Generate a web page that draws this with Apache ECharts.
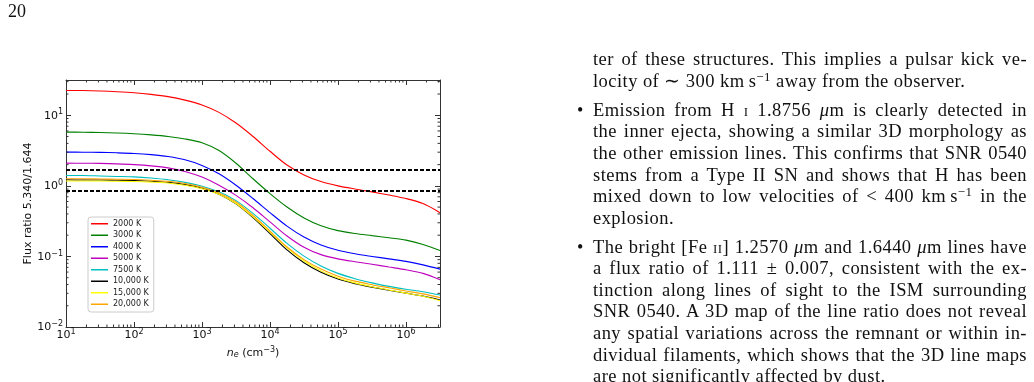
<!DOCTYPE html>
<html><head><meta charset="utf-8">
<script src="https://cdn.jsdelivr.net/npm/echarts@6/dist/echarts.min.js"></script>
<style>
html,body{margin:0;padding:0;background:#fff;width:1034px;height:382px;overflow:hidden;}
#chart{position:absolute;left:0;top:0;width:1034px;height:382px;}
.pg{position:absolute;left:8px;top:1px;font-family:'Liberation Serif',serif;font-size:18px;color:#111;}
.ln{position:absolute;left:593px;width:434px;height:21.5px;line-height:21.5px;font-family:'Liberation Serif',serif;font-size:18.5px;letter-spacing:0.45px;color:#111;text-align:justify;text-align-last:justify;white-space:nowrap;}
.ln.l{text-align:left;text-align-last:left;}
.bu{position:absolute;left:577px;height:21.5px;line-height:21.5px;font-family:'Liberation Serif',serif;font-size:18px;color:#111;}
sup{font-size:0.7em;line-height:0;vertical-align:0.45em;}
.sc{font-variant:small-caps;}
</style></head>
<body>
<div id="chart"></div>
<div class="pg">20</div>
<div class="ln" style="top:49px">ter of these structures. This implies a pulsar kick ve-</div>
<div class="ln l" style="top:71px">locity of ∼ 300 km&#8201;s<sup>−1</sup> away from the observer.</div>
<div class="bu" style="top:100px">•</div>
<div class="ln" style="top:100px">Emission from H <span class="sc">i</span> 1.8756 <i>μ</i>m is clearly detected in</div>
<div class="ln" style="top:121px">the inner ejecta, showing a similar 3D morphology as</div>
<div class="ln" style="top:143px">the other emission lines. This confirms that SNR&nbsp;0540</div>
<div class="ln" style="top:165px">stems from a Type II SN and shows that H has been</div>
<div class="ln" style="top:186px">mixed down to low velocities of &lt; 400 km&#8201;s<sup>−1</sup> in the</div>
<div class="ln l" style="top:208px">explosion.</div>
<div class="bu" style="top:237px">•</div>
<div class="ln" style="top:237px">The bright [Fe <span class="sc">ii</span>] 1.2570 <i>μ</i>m and 1.6440 <i>μ</i>m lines have</div>
<div class="ln" style="top:258px">a flux ratio of 1.111 ± 0.007, consistent with the ex-</div>
<div class="ln" style="top:280px">tinction along lines of sight to the ISM surrounding</div>
<div class="ln" style="top:301px">SNR&nbsp;0540. A 3D map of the line ratio does not reveal</div>
<div class="ln" style="top:323px">any spatial variations across the remnant or within in-</div>
<div class="ln" style="top:345px">dividual filaments, which shows that the 3D line maps</div>
<div class="ln l" style="top:366px">are not significantly affected by dust.</div>
<script>
// electron density n_e (cm^-3)
const density = [10, 17.8, 31.6, 56.2, 100, 178, 316, 562, 1000, 1778, 3162, 5623, 10000, 17783, 31623, 56234, 100000, 177828, 316228, 562341, 1000000, 1778279, 3162278];
// flux ratio 5.340/1.644 per temperature
const ratio2000K  = [22.5, 22.4, 22.1, 21.6, 20.9, 19.8, 18.4, 16.4, 14.0, 11.0, 7.76, 5.01, 3.09, 1.97, 1.43, 1.15, 1.00, 0.902, 0.822, 0.741, 0.661, 0.562, 0.417];
const ratio3000K  = [5.78, 5.75, 5.70, 5.61, 5.47, 5.27, 5.01, 4.62, 4.07, 3.16, 2.09, 1.26, 0.776, 0.501, 0.351, 0.272, 0.232, 0.211, 0.197, 0.184, 0.170, 0.148, 0.121];
const ratio4000K  = [3.01, 3.00, 2.98, 2.94, 2.88, 2.77, 2.60, 2.34, 1.95, 1.48, 1.02, 0.661, 0.417, 0.269, 0.188, 0.145, 0.122, 0.109, 0.100, 0.0923, 0.0851, 0.0759, 0.0661];
const ratio5000K  = [2.10, 2.09, 2.08, 2.05, 2.00, 1.92, 1.80, 1.60, 1.33, 1.02, 0.733, 0.490, 0.309, 0.195, 0.135, 0.106, 0.0923, 0.0841, 0.0776, 0.0708, 0.0646, 0.0575, 0.0468];
const ratio7500K  = [1.40, 1.40, 1.38, 1.36, 1.34, 1.29, 1.22, 1.12, 0.989, 0.822, 0.617, 0.407, 0.251, 0.153, 0.101, 0.0733, 0.0575, 0.0484, 0.0422, 0.0376, 0.0343, 0.0316, 0.0284];
const ratio10000K = [1.22, 1.21, 1.21, 1.20, 1.19, 1.16, 1.12, 1.04, 0.923, 0.759, 0.556, 0.355, 0.211, 0.124, 0.0813, 0.0596, 0.0479, 0.0412, 0.0367, 0.0331, 0.0302, 0.0275, 0.0242];
const ratio15000K = [1.17, 1.17, 1.17, 1.16, 1.15, 1.13, 1.10, 1.02, 0.912, 0.759, 0.562, 0.363, 0.221, 0.132, 0.0861, 0.0624, 0.0495, 0.0422, 0.0372, 0.0335, 0.0302, 0.0272, 0.0236];
const ratio20000K = [1.26, 1.26, 1.25, 1.24, 1.23, 1.20, 1.16, 1.08, 0.955, 0.794, 0.589, 0.380, 0.229, 0.136, 0.0902, 0.0661, 0.0525, 0.0447, 0.0398, 0.0359, 0.0324, 0.0295, 0.0261];
const seriesNames = ['2000 K', '3000 K', '4000 K', '5000 K', '7500 K', '10,000 K', '15,000 K', '20,000 K'];
const dashedLevels = [1.7, 0.86];
const xRange = [10, 3162278];
const yRange = [0.01, 31.62];
const minorMantissas = [2, 3, 4, 5, 6, 7, 8, 9];
const xDecades = [10, 100, 1000, 10000, 100000, 1000000];
const yDecades = [0.01, 0.1, 1, 10];

const ratios = [ratio2000K, ratio3000K, ratio4000K, ratio5000K, ratio7500K, ratio10000K, ratio15000K, ratio20000K];
const colors = ['#ff0000', '#008000', '#0000ff', '#bf00bf', '#00bfbf', '#000000', '#ffff00', '#ffa500'];
const FONT = 'DejaVu Sans';
const AX = '#333';

function minorList(decades, range) {
  const out = [];
  decades.forEach(d => minorMantissas.forEach(m => { const v = m * d; if (v > range[0] && v < range[1]) out.push(v); }));
  return out;
}
const xMinor = minorList(xDecades, xRange);
const yMinor = minorList(yDecades, yRange);

function powLabel(v) {
  const l = Math.log10(v);
  const e = Math.round(l);
  if (Math.abs(l - e) > 0.01) return '';
  return '{b|10}{s|' + (e < 0 ? '\u2212' + (-e) : e) + '}';
}
const labelRich = {
  b: {fontSize: 11, fontFamily: FONT, color: '#111', lineHeight: 12, verticalAlign: 'bottom'},
  s: {fontSize: 8, fontFamily: FONT, color: '#111', lineHeight: 8, padding: [0, 0, 5, 0], verticalAlign: 'bottom'}
};

const chart = echarts.init(document.getElementById('chart'), null, {renderer: 'canvas'});
const baseX = {type: 'log', min: xRange[0], max: xRange[1], splitLine: {show: false},
  axisLine: {show: true, lineStyle: {color: AX, width: 1}},
  axisTick: {show: true, inside: true, length: 5, lineStyle: {color: AX}}};
const baseY = {type: 'log', min: yRange[0], max: yRange[1], splitLine: {show: false},
  axisLine: {show: true, lineStyle: {color: AX, width: 1}},
  axisTick: {show: true, inside: true, length: 5, lineStyle: {color: AX}}};

const lineSeries = seriesNames.map((name, i) => ({
  name: name, type: 'line', xAxisIndex: 0, yAxisIndex: 0,
  data: density.map((d, j) => [d, ratios[i][j]]),
  showSymbol: false, symbol: 'none', smooth: 0.3,
  lineStyle: {color: colors[i], width: 1.1}, itemStyle: {color: colors[i]},
  emphasis: {disabled: true}
}));

const option = {
  animation: false,
  backgroundColor: 'transparent',
  grid: {left: 66, top: 80, width: 374, height: 247, containLabel: false},
  legend: {
    data: seriesNames, orient: 'vertical', left: 88, top: 217,
    padding: [2, 5, 3, 3], itemWidth: 17, itemHeight: 1.5, itemGap: 2, icon: 'rect',
    textStyle: {fontSize: 8, fontFamily: FONT, color: '#222', lineHeight: 9.5},
    backgroundColor: '#fff', borderColor: '#cccccc', borderWidth: 1, borderRadius: 3,
    selectedMode: false
  },
  xAxis: [
    Object.assign({}, baseX, {position: 'bottom',
      axisLabel: {show: true, margin: 2, formatter: powLabel, rich: labelRich, showMaxLabel: false},
      name: '{i|n}{sub|e} (cm{sup|\u22123})', nameLocation: 'middle', nameGap: 18,
      nameTextStyle: {fontFamily: FONT, fontSize: 11, color: '#111',
        rich: {i: {fontFamily: FONT, fontSize: 11, fontStyle: 'italic', color: '#111'},
               sub: {fontFamily: FONT, fontSize: 8, fontStyle: 'italic', color: '#111', padding: [5, 0, 0, 0]},
               sup: {fontFamily: FONT, fontSize: 8, color: '#111', padding: [0, 0, 6, 0]}}}}),
    Object.assign({}, baseX, {position: 'top', axisLabel: {show: false}})
  ],
  yAxis: [
    Object.assign({}, baseY, {position: 'left',
      axisLabel: {show: true, margin: 3, formatter: powLabel, rich: labelRich, showMaxLabel: false},
      name: 'Flux ratio 5.340/1.644', nameLocation: 'middle', nameGap: 30,
      nameTextStyle: {fontFamily: FONT, fontSize: 11, color: '#111'}}),
    Object.assign({}, baseY, {position: 'right', axisLabel: {show: false}})
  ],
  series: lineSeries.concat([
    {
      name: 'levels', type: 'line', xAxisIndex: 0, yAxisIndex: 0, data: [], z: 10,
      markLine: {silent: true, symbol: ['none', 'none'], label: {show: false},
        lineStyle: {color: '#000', width: 2, type: [4, 2]},
        data: dashedLevels.map(v => ({yAxis: v}))}
    },
    {
      name: 'xminor', type: 'custom', xAxisIndex: 0, yAxisIndex: 0, silent: true, z: 11,
      data: xMinor.map(v => [v, 1]),
      renderItem: function (params, api) {
        const cs = params.coordSys;
        const px = api.coord([api.value(0), 1])[0];
        return {type: 'group', children: [
          {type: 'line', shape: {x1: px, y1: cs.y + cs.height, x2: px, y2: cs.y + cs.height - 2.5}, style: {stroke: AX, lineWidth: 1}},
          {type: 'line', shape: {x1: px, y1: cs.y, x2: px, y2: cs.y + 2.5}, style: {stroke: AX, lineWidth: 1}}
        ]};
      }
    },
    {
      name: 'yminor', type: 'custom', xAxisIndex: 0, yAxisIndex: 0, silent: true, z: 11,
      data: yMinor.map(v => [100, v]),
      renderItem: function (params, api) {
        const cs = params.coordSys;
        const py = api.coord([100, api.value(1)])[1];
        return {type: 'group', children: [
          {type: 'line', shape: {x1: cs.x, y1: py, x2: cs.x + 2.5, y2: py}, style: {stroke: AX, lineWidth: 1}},
          {type: 'line', shape: {x1: cs.x + cs.width, y1: py, x2: cs.x + cs.width - 2.5, y2: py}, style: {stroke: AX, lineWidth: 1}}
        ]};
      }
    }
  ])
};
chart.setOption(option);
</script>
</body></html>
